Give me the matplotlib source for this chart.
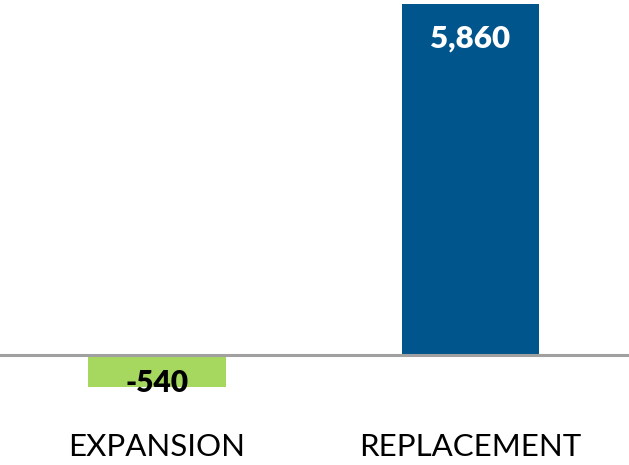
import matplotlib.pyplot as plt
from matplotlib.transforms import blended_transform_factory

categories = ['EXPANSION', 'REPLACEMENT']
values = [-540, 5860]
value_labels = ['-540', '5,860']
bar_colors = ['#a6d75f', '#00568c']
label_colors = ['black', 'white']

plt.rcParams['font.family'] = ['Lato', 'DejaVu Sans']

fig = plt.figure(figsize=(6.29, 4.65), dpi=100)
# axes spans from the green bar bottom to the blue bar top
ax = fig.add_axes([0, 78 / 465, 1, 383 / 465])

x = list(range(len(categories)))
ax.bar(x, values, width=0.44, color=bar_colors, zorder=2)
ax.axhline(0, color='#a0a0a0', lw=2.2, zorder=3)

ax.set_ylim(-540, 5860)
ax.set_xlim(-0.5008, 1.5056)
ax.axis('off')

# value labels
ax.text(x[0], -470, value_labels[0], ha='center', va='center',
        fontsize=21.5, fontweight='heavy', color=label_colors[0], zorder=4)
ax.text(x[1], 5290, value_labels[1], ha='center', va='center',
        fontsize=22.5, fontweight='heavy', color=label_colors[1], zorder=4)

# category labels under the chart
trans = blended_transform_factory(ax.transData, fig.transFigure)
for xi, cat in zip(x, categories):
    ax.text(xi, 1 - 447 / 465, cat, ha='center', va='center',
            fontsize=22.5, color='black', transform=trans)

fig.savefig('out.png', dpi=100)
